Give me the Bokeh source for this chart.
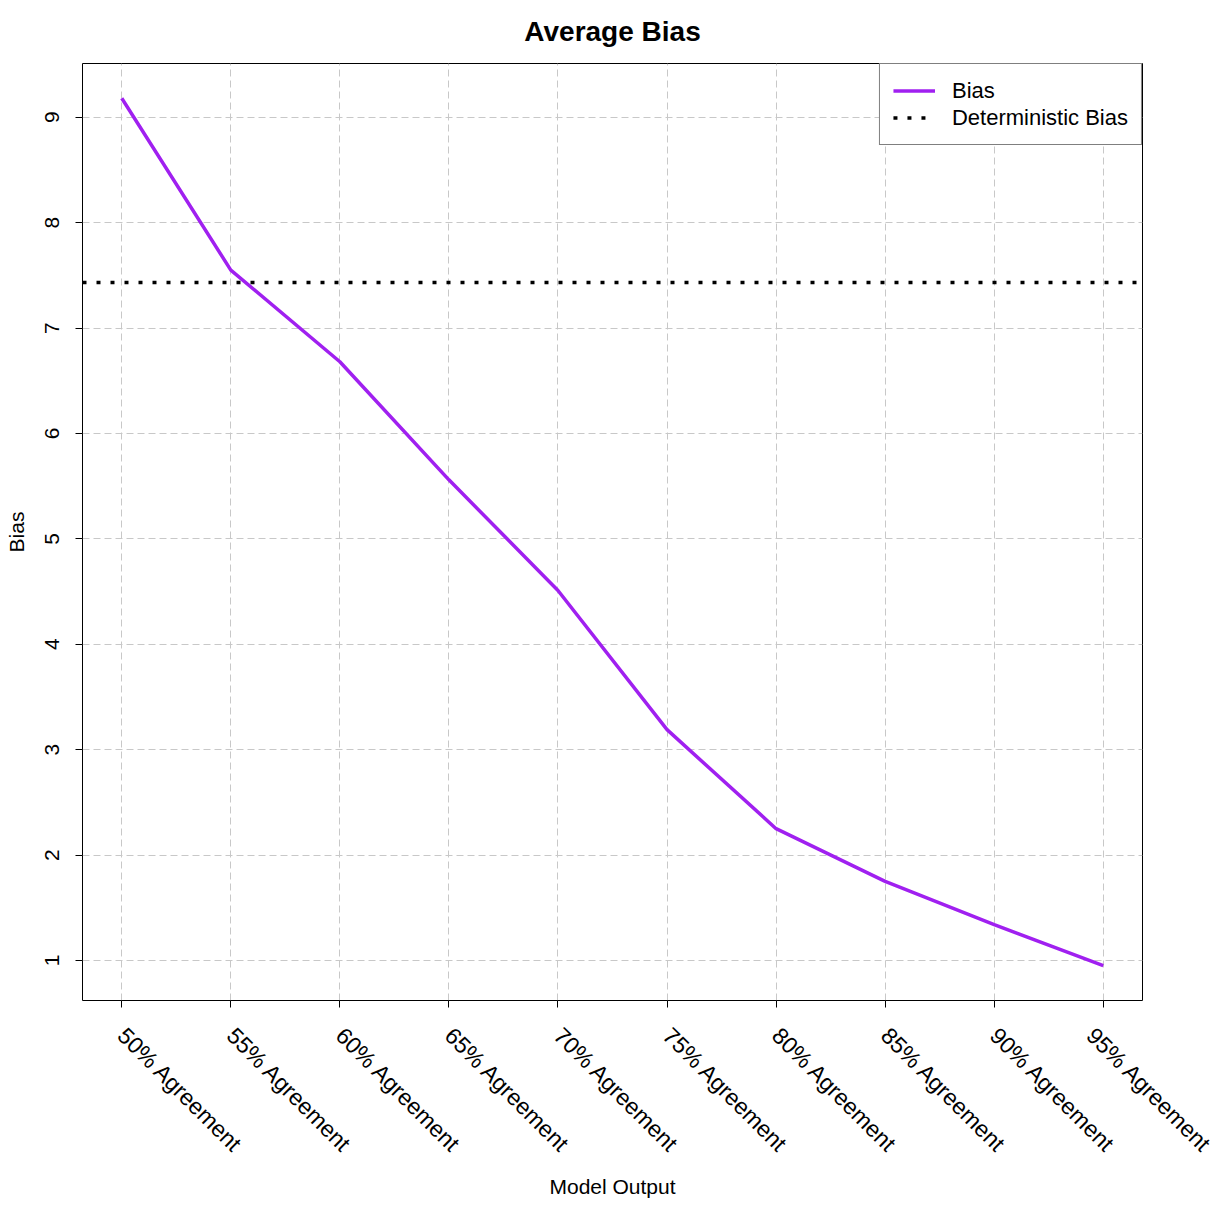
import numpy as np
from bokeh.plotting import figure
from bokeh.models import FixedTicker, Range1d, Legend
from bokeh.embed import file_html
from bokeh.resources import INLINE

categories = ["50% Agreement", "55% Agreement", "60% Agreement", "65% Agreement",
              "70% Agreement", "75% Agreement", "80% Agreement", "85% Agreement",
              "90% Agreement", "95% Agreement"]
bias = [9.18, 7.55, 6.68, 5.56, 4.51, 3.19, 2.25, 1.75, 1.34, 0.95]
deterministic_bias = 7.43
y_ticks = [1, 2, 3, 4, 5, 6, 7, 8, 9]

FONT = "Liberation Sans"
xpos = list(range(1, len(categories) + 1))

p = figure(frame_width=1060, frame_height=937, output_backend="svg",
           toolbar_location=None,
           x_range=Range1d(0.64, 10.36), y_range=Range1d(0.62, 9.51),
           min_border_left=82, min_border_right=74, min_border_top=63,
           min_border_bottom=150, title="Average Bias")

p.title.text_font = FONT
p.title.text_font_size = "28px"
p.title.text_font_style = "bold"
p.title.text_color = "black"
p.title.align = "center"
p.title.vertical_align = "top"
p.title.padding = 0
p.title.standoff = 30

p.background_fill_color = "white"
p.border_fill_color = "white"
p.outline_line_color = "black"
p.outline_line_width = 1

# grid
for g in (p.xgrid, p.ygrid):
    g.grid_line_color = "#C8C8C8"
    g.grid_line_dash = "7 4"
    g.grid_line_width = 1
p.xgrid.ticker = FixedTicker(ticks=xpos)
p.ygrid.ticker = FixedTicker(ticks=y_ticks)

# axes
xa = p.xaxis[0]
xa.ticker = FixedTicker(ticks=xpos)
xa.major_label_overrides = {x: c for x, c in zip(xpos, categories)}
xa.major_label_orientation = -np.pi / 4
xa.axis_label = "Model Output"
ya = p.yaxis[0]
ya.ticker = FixedTicker(ticks=y_ticks)
ya.major_label_orientation = "vertical"
ya.axis_label = "Bias"
for ax in (xa, ya):
    ax.axis_line_color = None
    ax.major_tick_line_color = "black"
    ax.major_tick_out = 7
    ax.major_tick_in = 0
    ax.minor_tick_line_color = None
    ax.major_label_text_font = FONT
    ax.major_label_text_font_size = "21px"
    ax.major_label_text_color = "black"
    ax.axis_label_text_font = FONT
    ax.axis_label_text_font_size = "21px"
    ax.axis_label_text_font_style = "normal"
    ax.axis_label_text_color = "black"
xa.major_label_text_font_size = "23px"
xa.major_label_standoff = 24
xa.axis_label_standoff = 5
ya.major_label_standoff = 16
ya.axis_label_standoff = 15

r1 = p.line(xpos, bias, line_color="#A020F0", line_width=3.5)
r2 = p.hspan(y=[deterministic_bias], line_color="black", line_width=3.5,
             line_dash="4 10")

legend = Legend(items=[("Bias", [r1]), ("Deterministic Bias", [r2])],
                location="top_right")
legend.margin = 0
legend.padding = 13
legend.spacing = 0
legend.label_height = 27
legend.glyph_height = 27
legend.glyph_width = 42
legend.label_standoff = 17
legend.label_text_font = FONT
legend.label_text_font_size = "22px"
legend.label_text_color = "black"
legend.border_line_color = "black"
legend.border_line_width = 1
legend.background_fill_alpha = 1
p.add_layout(legend, "center")

open("out.html", "w").write(file_html(p, INLINE))
